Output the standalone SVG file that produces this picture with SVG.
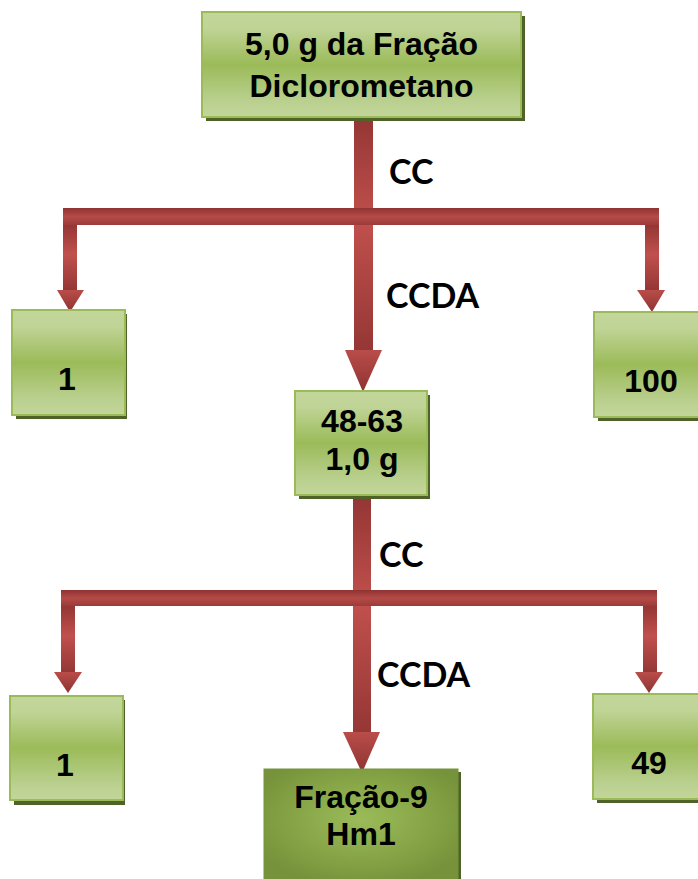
<svg xmlns="http://www.w3.org/2000/svg" width="698" height="879" viewBox="0 0 698 879">
<defs>
<linearGradient id="gBox" x1="0" y1="0" x2="0" y2="1">
<stop offset="0" stop-color="#c3d69b"/>
<stop offset="0.15" stop-color="#c0d497"/>
<stop offset="0.5" stop-color="#9bbb59"/>
<stop offset="0.85" stop-color="#bad08f"/>
<stop offset="1" stop-color="#c3d69b"/>
</linearGradient>
<radialGradient id="gDark" cx="0.5" cy="0.45" r="0.6">
<stop offset="0" stop-color="#9bbb59"/>
<stop offset="0.6" stop-color="#86a446"/>
<stop offset="1" stop-color="#76923b"/>
</radialGradient>
<linearGradient id="gV" x1="0" y1="0" x2="0" y2="1">
<stop offset="0" stop-color="#943634"/>
<stop offset="0.45" stop-color="#c0504d"/>
<stop offset="1" stop-color="#953735"/>
</linearGradient>
<linearGradient id="gH" x1="0" y1="0" x2="0" y2="1">
<stop offset="0" stop-color="#8e3331"/>
<stop offset="0.5" stop-color="#b54b48"/>
<stop offset="1" stop-color="#9c3b39"/>
</linearGradient>
<linearGradient id="gHead" x1="0" y1="0" x2="0" y2="1">
<stop offset="0" stop-color="#b94d4a"/>
<stop offset="1" stop-color="#8e3331"/>
</linearGradient>
</defs>
<style>
.box{fill:url(#gBox);stroke:#9bbb59;stroke-width:2}
.dark{fill:url(#gDark);stroke:#77933c;stroke-width:1}
.sh{fill:#4f6228}
.t{font-family:"Liberation Sans",Arial,sans-serif;font-weight:bold;font-size:32px;fill:#000;text-anchor:middle}
.lbl{font-family:Lato,"Open Sans",sans-serif;font-weight:bold;font-size:34px;fill:#000}
.v{fill:url(#gV)}
.h{fill:url(#gH)}
.hd{fill:url(#gHead)}
</style>
<g id="connectors">
<rect class="v" x="354" y="117" width="19" height="233"/>
<polygon class="hd" points="345,350 382,350 363,392"/>
<rect class="h" x="63" y="208" width="596" height="17"/>
<rect class="v" x="63" y="225" width="14" height="65"/>
<polygon class="hd" points="57,290 84,290 70,312"/>
<rect class="v" x="645" y="225" width="14" height="65"/>
<polygon class="hd" points="637,290 665,290 652,312"/>
<rect class="v" x="353" y="498" width="18" height="234"/>
<polygon class="hd" points="343,732 380,732 362,773"/>
<rect class="h" x="61" y="590" width="596" height="16"/>
<rect class="v" x="61" y="606" width="14" height="66"/>
<polygon class="hd" points="54,672 82,672 68,693"/>
<rect class="v" x="643" y="606" width="14" height="66"/>
<polygon class="hd" points="635,672 663,672 649,693"/>
<text class="lbl" x="389" y="184">CC</text>
<text class="lbl" x="386" y="308">CCDA</text>
<text class="lbl" x="379" y="567">CC</text>
<text class="lbl" x="377" y="687">CCDA</text>
</g>
<g id="n-top">
<rect class="sh" x="206" y="16" width="319" height="105"/>
<rect class="box" x="202" y="12" width="319" height="105"/>
<text class="t" x="361.5" y="55">5,0 g da Fração</text>
<text class="t" x="361.5" y="97">Diclorometano</text>
</g>
<g id="n-1a">
<rect class="sh" x="16" y="314" width="111" height="105"/>
<rect class="box" x="12" y="310" width="113" height="105"/>
<text class="t" x="67" y="390">1</text>
</g>
<g id="n-100">
<rect class="sh" x="598" y="316" width="104" height="105"/>
<rect class="box" x="594" y="312" width="106" height="105"/>
<text class="t" x="651" y="392">100</text>
</g>
<g id="n-4863">
<rect class="sh" x="299" y="395" width="131" height="104"/>
<rect class="box" x="295" y="391" width="132" height="104"/>
<text class="t" x="362" y="432">48-63</text>
<text class="t" x="362" y="470">1,0 g</text>
</g>
<g id="n-1b">
<rect class="sh" x="14" y="700" width="111" height="105"/>
<rect class="box" x="10" y="696" width="113" height="104"/>
<text class="t" x="65" y="776">1</text>
</g>
<g id="n-49">
<rect class="sh" x="597" y="698" width="105" height="105"/>
<rect class="box" x="593" y="694" width="107" height="105"/>
<text class="t" x="649" y="774">49</text>
</g>
<g id="n-fracao9">
<rect class="sh" x="267" y="772" width="194" height="110"/>
<rect class="dark" x="264" y="769" width="194" height="112"/>
<text class="t" x="361" y="808">Fração-9</text>
<text class="t" x="361" y="845">Hm1</text>
</g>
</svg>
